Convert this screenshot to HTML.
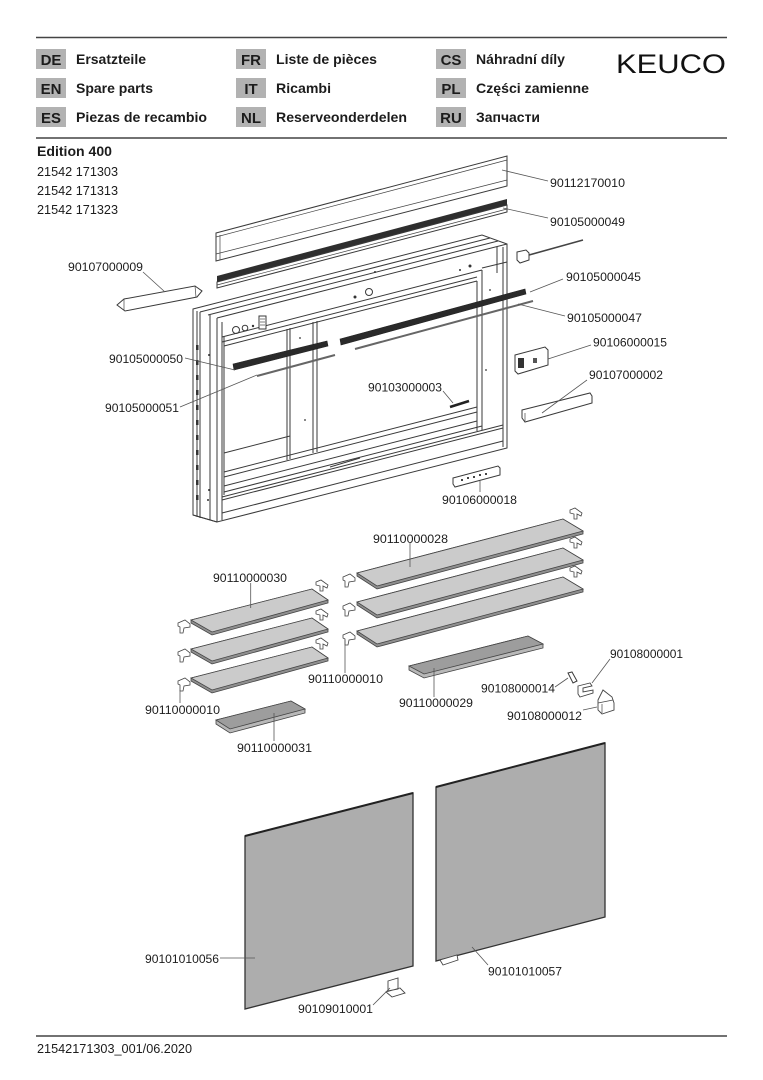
<!DOCTYPE html>
<html><head><meta charset="utf-8">
<style>
html,body{margin:0;padding:0;background:#fff;}
svg{display:block;}
text{font-family:"Liberation Sans",Arial,sans-serif;fill:#1c1c1c;}
.l{font-size:12.3px;}
.h{font-size:14px;font-weight:bold;}
.c{font-size:15px;font-weight:bold;}
.s{fill:none;stroke:#3a3a3a;stroke-width:1;}
.t{fill:none;stroke:#444;stroke-width:0.7;}
.ld{fill:none;stroke:#555;stroke-width:0.8;}
.w{fill:#fff;stroke:#3a3a3a;stroke-width:1;}
.d{fill:#2a2a2a;stroke:#222;stroke-width:0.6;}
</style></head><body>
<svg width="763" height="1080" viewBox="0 0 763 1080" xmlns="http://www.w3.org/2000/svg">
<!-- header rules -->
<line x1="36" y1="37.5" x2="727" y2="37.5" stroke="#444" stroke-width="1.6"/>
<line x1="36" y1="138" x2="727" y2="138" stroke="#444" stroke-width="1.6"/>
<line x1="36" y1="1036" x2="727" y2="1036" stroke="#444" stroke-width="1.6"/>

<!-- language boxes -->
<g fill="#b2b2b2">
<rect x="36" y="49" width="30" height="20"/><rect x="36" y="78" width="30" height="20"/><rect x="36" y="107" width="30" height="20"/>
<rect x="236" y="49" width="30" height="20"/><rect x="236" y="78" width="30" height="20"/><rect x="236" y="107" width="30" height="20"/>
<rect x="436" y="49" width="30" height="20"/><rect x="436" y="78" width="30" height="20"/><rect x="436" y="107" width="30" height="20"/>
</g>
<g class="c" text-anchor="middle">
<text x="51" y="65" class="c">DE</text><text x="51" y="94" class="c">EN</text><text x="51" y="123" class="c">ES</text>
<text x="251" y="65" class="c">FR</text><text x="251" y="94" class="c">IT</text><text x="251" y="123" class="c">NL</text>
<text x="451" y="65" class="c">CS</text><text x="451" y="94" class="c">PL</text><text x="451" y="123" class="c">RU</text>
</g>
<text x="76" y="64" class="h" textLength="70" lengthAdjust="spacingAndGlyphs">Ersatzteile</text>
<text x="76" y="93" class="h" textLength="77" lengthAdjust="spacingAndGlyphs">Spare parts</text>
<text x="76" y="122" class="h" textLength="131" lengthAdjust="spacingAndGlyphs">Piezas de recambio</text>
<text x="276" y="64" class="h" textLength="101" lengthAdjust="spacingAndGlyphs">Liste de pièces</text>
<text x="276" y="93" class="h" textLength="55" lengthAdjust="spacingAndGlyphs">Ricambi</text>
<text x="276" y="122" class="h" textLength="131" lengthAdjust="spacingAndGlyphs">Reserveonderdelen</text>
<text x="476" y="64" class="h" textLength="89" lengthAdjust="spacingAndGlyphs">Náhradní díly</text>
<text x="476" y="93" class="h" textLength="113" lengthAdjust="spacingAndGlyphs">Części zamienne</text>
<text x="476" y="122" class="h" textLength="64" lengthAdjust="spacingAndGlyphs">Запчасти</text>
<text x="616" y="73" style="font-size:27px;fill:#111" textLength="110" lengthAdjust="spacingAndGlyphs">KEUCO</text>

<text x="37" y="156" class="h" textLength="75" lengthAdjust="spacingAndGlyphs">Edition 400</text>
<text x="37" y="176" style="font-size:13px" textLength="81" lengthAdjust="spacingAndGlyphs">21542 171303</text>
<text x="37" y="195" style="font-size:13px" textLength="81" lengthAdjust="spacingAndGlyphs">21542 171313</text>
<text x="37" y="214" style="font-size:13px" textLength="81" lengthAdjust="spacingAndGlyphs">21542 171323</text>
<text x="37" y="1053" style="font-size:13px" textLength="155" lengthAdjust="spacingAndGlyphs">21542171303_001/06.2020</text>

<!-- top trim panel -->
<polygon class="w" points="216,233 507,156 507,186 216,261"/>
<line class="t" x1="216" y1="237" x2="507" y2="160"/>
<line class="t" x1="216" y1="254" x2="507" y2="180"/>
<line class="t" x1="220" y1="260" x2="220" y2="235"/>
<!-- LED strip -->
<polygon fill="#2e2e2e" points="217,276 507,199 507,205 217,282"/>
<polygon class="w" points="217,282 507,205 507,212 217,288"/>
<line class="t" x1="217" y1="285" x2="507" y2="209"/>

<!-- cabinet -->
<g class="s">
<polygon fill="#fff" points="193,309 482,235 507,244 507,448 217,522 193,515"/>
<line x1="217" y1="318" x2="507" y2="244"/>
<line x1="200" y1="312" x2="490" y2="238"/>
<line x1="208" y1="315" x2="498" y2="241"/>
<line x1="217" y1="318" x2="217" y2="522"/>
<line x1="197" y1="311" x2="197" y2="517"/>
<line x1="200" y1="312" x2="200" y2="518"/>
<line x1="210" y1="315" x2="210" y2="520"/>
<line x1="224" y1="336" x2="224" y2="495"/>
<line x1="222" y1="322" x2="222" y2="520"/>
<!-- header bottom and rails -->
<line x1="222" y1="337" x2="482" y2="270"/>
<line x1="222" y1="342" x2="477" y2="277"/>
<line x1="224" y1="346" x2="477" y2="281"/>
<!-- divider -->
<line x1="287" y1="329" x2="287" y2="460"/>
<line x1="290" y1="328" x2="290" y2="459"/>
<line x1="313" y1="322" x2="313" y2="453"/>
<line x1="317" y1="321" x2="317" y2="452"/>
<!-- right column -->
<line x1="477" y1="281" x2="477" y2="431"/>
<line x1="482" y1="270" x2="482" y2="430"/>
<line x1="503" y1="247" x2="503" y2="447"/>
<line x1="497" y1="247" x2="497" y2="273"/>
<line x1="482" y1="268" x2="507" y2="262"/>
<!-- bottom rails -->
<line x1="224" y1="472" x2="477" y2="407"/>
<line x1="224" y1="477" x2="477" y2="412"/>
<line x1="224" y1="486" x2="477" y2="421"/>
<line x1="224" y1="492" x2="482" y2="426"/>
<line x1="222" y1="497" x2="503" y2="425"/>
<line x1="222" y1="500" x2="503" y2="428"/>
<line x1="222" y1="513" x2="503" y2="441"/>
<line x1="193" y1="515" x2="217" y2="522"/>
<line x1="224" y1="453" x2="290" y2="436"/>
<line x1="330" y1="467" x2="360" y2="458"/>
</g>
<!-- left side slots -->
<g fill="#333">
<rect x="196" y="345" width="2.5" height="5"/><rect x="196" y="360" width="2.5" height="5"/><rect x="196" y="375" width="2.5" height="5"/>
<rect x="196" y="390" width="2.5" height="5"/><rect x="196" y="405" width="2.5" height="5"/><rect x="196" y="420" width="2.5" height="5"/>
<rect x="196" y="435" width="2.5" height="5"/><rect x="196" y="450" width="2.5" height="5"/><rect x="196" y="465" width="2.5" height="5"/>
<rect x="196" y="480" width="2.5" height="5"/><rect x="196" y="495" width="2.5" height="5"/>
<circle cx="209" cy="355" r="1"/><circle cx="209" cy="490" r="1"/><circle cx="208" cy="500" r="1"/>
<circle cx="300" cy="338" r="0.9"/><circle cx="305" cy="420" r="0.9"/><circle cx="486" cy="370" r="0.9"/><circle cx="490" cy="290" r="0.9"/>
<circle cx="355" cy="297" r="1.5"/><circle cx="375" cy="272" r="1"/><circle cx="460" cy="270" r="1"/><circle cx="470" cy="266" r="1.5"/>
</g>
<circle cx="236" cy="330" r="3.5" class="s" fill="#fff"/>
<circle cx="245" cy="328" r="2.8" class="s" fill="#fff"/>
<circle cx="369" cy="292" r="3.5" class="s" fill="#fff"/>
<circle cx="253" cy="326" r="1.2" fill="#333"/>
<rect x="259" y="316" width="7" height="13" class="w"/>
<line x1="260" y1="319" x2="265" y2="319" class="t"/><line x1="260" y1="322" x2="265" y2="322" class="t"/><line x1="260" y1="325" x2="265" y2="325" class="t"/>

<!-- shelf rails -->
<polygon class="d" points="233,364 327,341 328,346 234,370"/>
<line x1="257" y1="376" x2="335" y2="355" stroke="#666" stroke-width="2"/>
<polygon class="d" points="340,339 525,289 526,294 341,345"/>
<line x1="355" y1="349" x2="533" y2="301" stroke="#666" stroke-width="2"/>
<line x1="450" y1="407" x2="469" y2="401" stroke="#222" stroke-width="2.5"/>

<!-- small parts upper -->
<polygon class="w" points="117,305 124,299 195,286 202,291 197,297 125,311"/>
<line class="t" x1="124" y1="299" x2="124" y2="310"/><line class="t" x1="195" y1="286" x2="196" y2="297"/>
<polygon class="w" points="517,252 526,250 529,253 529,260 520,263 517,260"/>
<line x1="529" y1="255" x2="583" y2="240" stroke="#444" stroke-width="1.6"/>
<polygon class="w" points="515,355 545,347 548,350 548,365 518,374 515,371"/>
<rect x="518" y="358" width="6" height="10" fill="#333"/><rect x="533" y="358" width="4" height="5" fill="#555"/>
<polygon class="w" points="522,410 590,393 592,396 592,403 525,422 522,418"/>
<line class="t" x1="525" y1="413" x2="525" y2="421"/>
<polygon class="w" points="453,478 498,466 500,468 500,475 455,487 453,484"/>
<g fill="#444"><rect x="461" y="479" width="2" height="2"/><rect x="467" y="477" width="2" height="2"/><rect x="473" y="476" width="2" height="2"/><rect x="479" y="474" width="2" height="2"/><rect x="485" y="473" width="2" height="2"/></g>

<!-- shelves left set -->
<g stroke="#444" stroke-width="0.8">
<polygon fill="#8f8f8f" points="191,620 312,589 328,600 328,603 212,635 191,623"/>
<polygon fill="#cbcbcb" points="191,620 312,589 328,600 212,632"/>
<polygon fill="#8f8f8f" points="191,649 312,618 328,629 328,632 212,664 191,652"/>
<polygon fill="#cbcbcb" points="191,649 312,618 328,629 212,661"/>
<polygon fill="#8f8f8f" points="191,678 312,647 328,658 328,661 212,693 191,681"/>
<polygon fill="#cbcbcb" points="191,678 312,647 328,658 212,690"/>
<!-- right set -->
<polygon fill="#8f8f8f" points="357,573 563,519 583,531 583,534 377,589 357,576"/>
<polygon fill="#cbcbcb" points="357,573 563,519 583,531 377,586"/>
<polygon fill="#8f8f8f" points="357,602 563,548 583,560 583,563 377,618 357,605"/>
<polygon fill="#cbcbcb" points="357,602 563,548 583,560 377,615"/>
<polygon fill="#8f8f8f" points="357,631 563,577 583,589 583,592 377,647 357,634"/>
<polygon fill="#cbcbcb" points="357,631 563,577 583,589 377,644"/>
<!-- bottom shelves -->
<polygon fill="#b8b8b8" points="216,720 291,701 305,709 305,713 230,733 216,724"/>
<polygon fill="#9d9d9d" points="216,720 291,701 305,709 230,729"/>
<polygon fill="#b8b8b8" points="409,666 528,636 543,644 543,648 424,678 409,670"/>
<polygon fill="#9d9d9d" points="409,666 528,636 543,644 424,674"/>
</g>
<!-- clips -->
<defs>
<path id="cl" d="M0,3 L7,0 L12,4 L12,7 L6,8 L5,13 L2,13 L2,7 L0,6 Z" fill="#fff" stroke="#444" stroke-width="0.8"/>
<path id="cr" d="M0,2 L5,0 L12,5 L11,8 L7,6 L7,11 L4,11 L4,6 L0,5 Z" fill="#fff" stroke="#444" stroke-width="0.8"/>
</defs>
<use href="#cl" x="178" y="620"/><use href="#cl" x="178" y="649"/><use href="#cl" x="178" y="678"/>
<use href="#cr" x="316" y="580"/><use href="#cr" x="316" y="609"/><use href="#cr" x="316" y="638"/>
<use href="#cl" x="343" y="574"/><use href="#cl" x="343" y="603"/><use href="#cl" x="343" y="632"/>
<use href="#cr" x="570" y="508"/><use href="#cr" x="570" y="537"/><use href="#cr" x="570" y="566"/>

<!-- small parts lower right -->
<polygon class="w" points="568,673 572,672 577,681 573,683"/>
<path d="M578,686 L590,683 L592,686 L583,688 L583,692 L593,690 L593,693 L580,697 L578,694 Z" fill="#fff" stroke="#444" stroke-width="0.9"/>
<path d="M598,700 L603,690 L612,697 L614,703 L614,710 L602,714 L598,710 Z" fill="#fff" stroke="#444" stroke-width="0.9"/>
<line class="t" x1="598" y1="703" x2="613" y2="700"/><line class="t" x1="602" y1="704" x2="602" y2="713"/>

<!-- mirrors -->
<polygon points="245,836 413,793 413,966 245,1009" fill="#adadad" stroke="#333" stroke-width="1.3"/>
<line x1="245" y1="836" x2="413" y2="793" stroke="#222" stroke-width="2"/>
<polygon points="436,787 605,743 605,917 436,961" fill="#adadad" stroke="#333" stroke-width="1.3"/>
<line x1="436" y1="787" x2="605" y2="743" stroke="#222" stroke-width="2"/>
<path d="M388,981 L398,978 L398,989 L388,991 Z M386,992 L400,988 L405,993 L392,997 Z" fill="#fff" stroke="#444" stroke-width="0.9"/>
<polygon points="440,960 457,955 458,960 443,965" fill="#fff" stroke="#444" stroke-width="0.9"/>

<!-- leader lines -->
<g class="ld">
<line x1="502" y1="170" x2="548" y2="181"/>
<line x1="503" y1="208" x2="548" y2="218"/>
<line x1="530" y1="292" x2="563" y2="279"/>
<line x1="518" y1="304" x2="565" y2="316"/>
<line x1="548" y1="359" x2="591" y2="345"/>
<line x1="542" y1="413" x2="587" y2="380"/>
<line x1="143" y1="272" x2="165" y2="292"/>
<line x1="185" y1="358" x2="235" y2="370"/>
<line x1="180" y1="407" x2="257" y2="375"/>
<line x1="443" y1="391" x2="453" y2="403"/>
<line x1="480" y1="481" x2="480" y2="492"/>
<line x1="410" y1="543" x2="410" y2="567"/>
<line x1="250.7" y1="583" x2="250.7" y2="608"/>
<line x1="345" y1="640" x2="345" y2="673"/>
<line x1="180" y1="690" x2="180" y2="703"/>
<line x1="434" y1="668" x2="434" y2="697"/>
<line x1="274" y1="713" x2="274" y2="741"/>
<line x1="555" y1="687" x2="568" y2="678"/>
<line x1="592" y1="683" x2="610" y2="659"/>
<line x1="583" y1="710" x2="597" y2="707"/>
<line x1="220" y1="958" x2="255" y2="958"/>
<line x1="488" y1="965" x2="472" y2="947"/>
<line x1="373" y1="1005" x2="390" y2="988"/>
</g>

<!-- labels -->
<g class="l">
<text x="550" y="187" class="l" textLength="75" lengthAdjust="spacingAndGlyphs">90112170010</text>
<text x="550" y="226" class="l" textLength="75" lengthAdjust="spacingAndGlyphs">90105000049</text>
<text x="566" y="281" class="l" textLength="75" lengthAdjust="spacingAndGlyphs">90105000045</text>
<text x="567" y="322" class="l" textLength="75" lengthAdjust="spacingAndGlyphs">90105000047</text>
<text x="593" y="346.5" class="l" textLength="74" lengthAdjust="spacingAndGlyphs">90106000015</text>
<text x="589" y="379" class="l" textLength="74" lengthAdjust="spacingAndGlyphs">90107000002</text>
<text x="68" y="271" class="l" textLength="75" lengthAdjust="spacingAndGlyphs">90107000009</text>
<text x="109" y="363" class="l" textLength="74" lengthAdjust="spacingAndGlyphs">90105000050</text>
<text x="105" y="412" class="l" textLength="74" lengthAdjust="spacingAndGlyphs">90105000051</text>
<text x="368" y="391.5" class="l" textLength="74" lengthAdjust="spacingAndGlyphs">90103000003</text>
<text x="442" y="504" class="l" textLength="75" lengthAdjust="spacingAndGlyphs">90106000018</text>
<text x="373" y="543" class="l" textLength="75" lengthAdjust="spacingAndGlyphs">90110000028</text>
<text x="213" y="582" class="l" textLength="74" lengthAdjust="spacingAndGlyphs">90110000030</text>
<text x="308" y="683" class="l" textLength="75" lengthAdjust="spacingAndGlyphs">90110000010</text>
<text x="145" y="714" class="l" textLength="75" lengthAdjust="spacingAndGlyphs">90110000010</text>
<text x="399" y="707" class="l" textLength="74" lengthAdjust="spacingAndGlyphs">90110000029</text>
<text x="237" y="752" class="l" textLength="75" lengthAdjust="spacingAndGlyphs">90110000031</text>
<text x="481" y="692.7" class="l" textLength="74" lengthAdjust="spacingAndGlyphs">90108000014</text>
<text x="507" y="720" class="l" textLength="75" lengthAdjust="spacingAndGlyphs">90108000012</text>
<text x="610" y="658" class="l" textLength="73" lengthAdjust="spacingAndGlyphs">90108000001</text>
<text x="145" y="963" class="l" textLength="74" lengthAdjust="spacingAndGlyphs">90101010056</text>
<text x="488" y="975.7" class="l" textLength="74" lengthAdjust="spacingAndGlyphs">90101010057</text>
<text x="298" y="1013" class="l" textLength="75" lengthAdjust="spacingAndGlyphs">90109010001</text>
</g>
</svg>
</body></html>
